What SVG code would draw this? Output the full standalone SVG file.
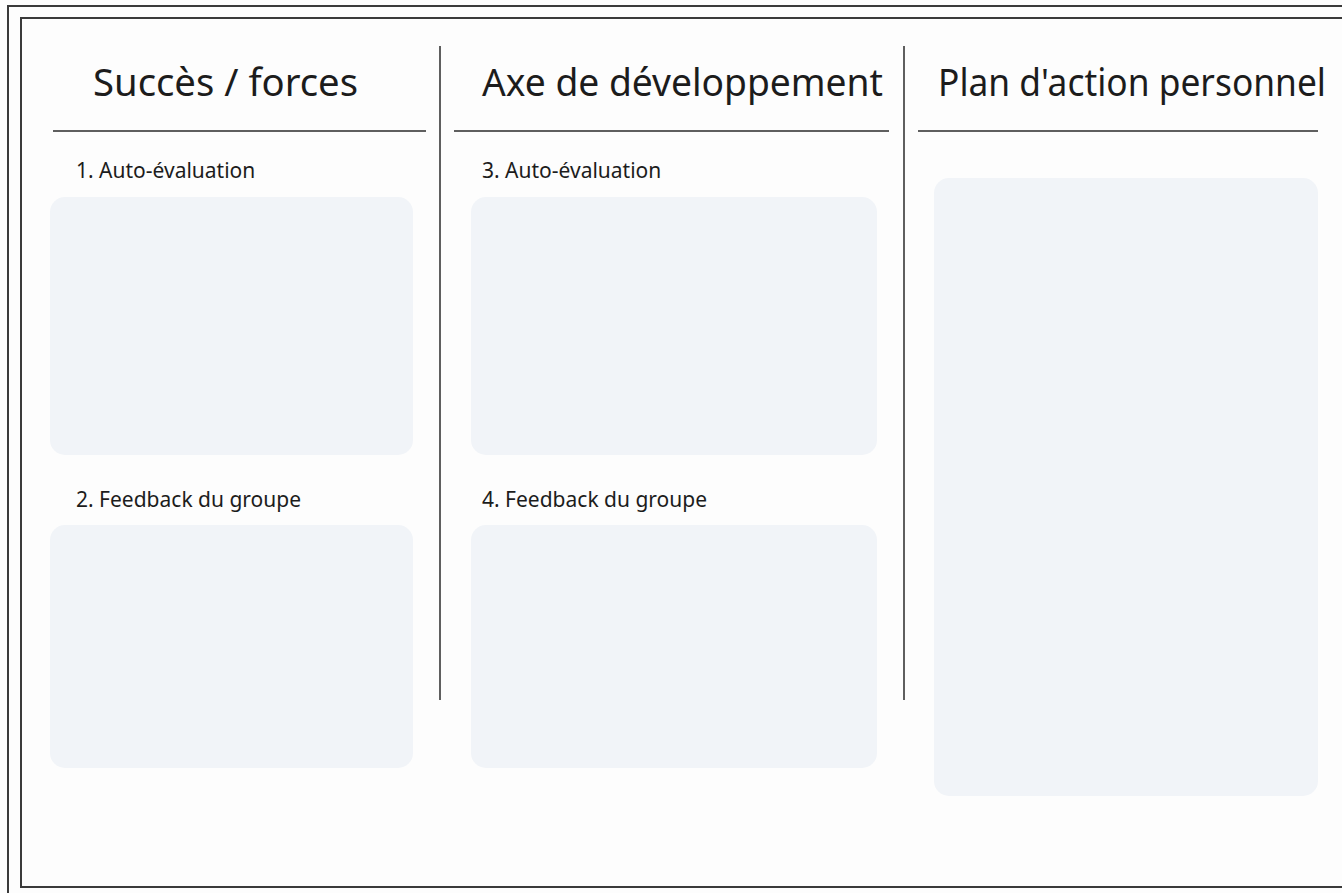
<svg xmlns="http://www.w3.org/2000/svg" width="1342" height="893" viewBox="0 0 1342 893">
<style>
.frame{fill:none;stroke:#3a3a3a;stroke-width:2}
.rule{stroke:#2a2a2a;stroke-width:1.5}
.box{fill:#f1f4f8}
.title{font-family:"Noto Sans","Open Sans",sans-serif;font-size:38px;fill:#1c1c1c}
.label{font-family:"Noto Sans","Open Sans",sans-serif;font-size:21px;fill:#1c1c1c}
</style>
<rect width="1342" height="893" fill="#fdfdfd"/>
<rect class="frame" x="8" y="6" width="1345" height="900"/>
<rect class="frame" x="21" y="18" width="1330" height="869"/>
<g id="connectors">
<line class="rule" x1="440" y1="46" x2="440" y2="700"/>
<line class="rule" x1="904" y1="46" x2="904" y2="700"/>
<line class="rule" x1="53" y1="131" x2="426" y2="131"/>
<line class="rule" x1="454" y1="131" x2="889" y2="131"/>
<line class="rule" x1="918" y1="131" x2="1318" y2="131"/>
</g>
<g id="col1-title"><text class="title" x="93" y="96" textLength="265" lengthAdjust="spacingAndGlyphs">Succès / forces</text></g>
<g id="col2-title"><text class="title" x="482" y="96" textLength="401" lengthAdjust="spacingAndGlyphs">Axe de développement</text></g>
<g id="col3-title"><text class="title" x="938" y="96" textLength="388" lengthAdjust="spacingAndGlyphs">Plan d'action personnel</text></g>
<g id="node1">
<text class="label" x="76" y="178">1. Auto-évaluation</text>
<rect class="box" x="50" y="197" width="363" height="258" rx="15"/>
</g>
<g id="node2">
<text class="label" x="76" y="507">2. Feedback du groupe</text>
<rect class="box" x="50" y="525" width="363" height="243" rx="15"/>
</g>
<g id="node3">
<text class="label" x="482" y="178">3. Auto-évaluation</text>
<rect class="box" x="471" y="197" width="406" height="258" rx="15"/>
</g>
<g id="node4">
<text class="label" x="482" y="507">4. Feedback du groupe</text>
<rect class="box" x="471" y="525" width="406" height="243" rx="15"/>
</g>
<g id="node5">
<rect class="box" x="934" y="178" width="384" height="618" rx="15"/>
</g>
</svg>
